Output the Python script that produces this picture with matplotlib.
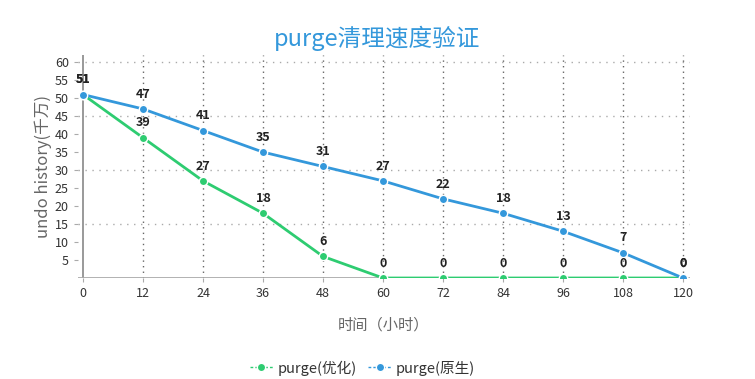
import matplotlib.pyplot as plt
import numpy as np

plt.rcParams['font.family'] = ['Noto Sans CJK SC', 'DejaVu Sans']

# data
hours = [0, 12, 24, 36, 48, 60, 72, 84, 96, 108, 120]
optimized = [51, 39, 27, 18, 6, 0, 0, 0, 0, 0, 0]
native = [51, 47, 41, 35, 31, 27, 22, 18, 13, 7, 0]
y_ticks = [5, 10, 15, 20, 25, 30, 35, 40, 45, 50, 55, 60]

green = '#2ecc71'
blue = '#3498db'

fig = plt.figure(figsize=(7.55, 3.79), dpi=100)
ax = fig.add_axes([0.1033, 0.2665, 0.8106, 0.5884])
ax.set_xlim(-1, 121.4)
ax.set_ylim(0, 62)

for s in ax.spines.values():
    s.set_visible(False)

# grid
for y in [15, 30, 45, 60]:
    ax.axhline(y, color='#aaaaaa', lw=1, ls=(0, (1, 4)), zorder=0)
for x in hours[1:]:
    ax.plot([x, x], [0, 62], color='#666666', lw=1, ls=(0, (1, 3)), zorder=0)
ax.plot([0, 0], [0, 62], color='#888888', lw=1.2, zorder=1)
ax.axhline(0, color='#aaaaaa', lw=2, zorder=1)

ax.plot(hours, optimized, color=green, lw=2, marker='o', ms=6,
        mec='white', mew=1, label='purge(优化)', zorder=3)
ax.plot(hours, native, color=blue, lw=2, marker='o', ms=6,
        mec='white', mew=1, label='purge(原生)', zorder=3)

for x, a, b in zip(hours, optimized, native):
    ax.annotate(str(a), (x, a), xytext=(0, 6), textcoords='offset points',
                ha='center', va='bottom', fontsize=9, fontweight='bold', color='#222222')
    ax.annotate(str(b), (x, b), xytext=(0, 6), textcoords='offset points',
                ha='center', va='bottom', fontsize=9, fontweight='bold', color='#222222')

ax.set_xticks(hours)
ax.set_yticks(y_ticks)
ax.tick_params(axis='both', labelsize=9, colors='#333333', length=3, width=0.8)
ax.tick_params(axis='y', color='#aaaaaa')
ax.tick_params(axis='x', color='#aaaaaa')

ax.set_ylabel('undo history(千万)', fontsize=12, color='#666666', labelpad=2)
ax.set_xlabel('时间（小时）', fontsize=11, color='#666666', labelpad=12)
fig.text(0.5, 0.9, 'purge清理速度验证', ha='center', va='center',
         fontsize=17, color=blue)

ax.legend(loc='upper center', bbox_to_anchor=(0.465, -0.31), ncol=2, frameon=False,
          fontsize=10.5, handlelength=1.6, handletextpad=0.3, columnspacing=0.8,
          labelcolor='#333333')
leg = ax.get_legend()
for h in leg.get_lines():
    h.set_linestyle((0, (2, 1.5)))
    h.set_linewidth(1)

fig.savefig('out.png', dpi=100)
